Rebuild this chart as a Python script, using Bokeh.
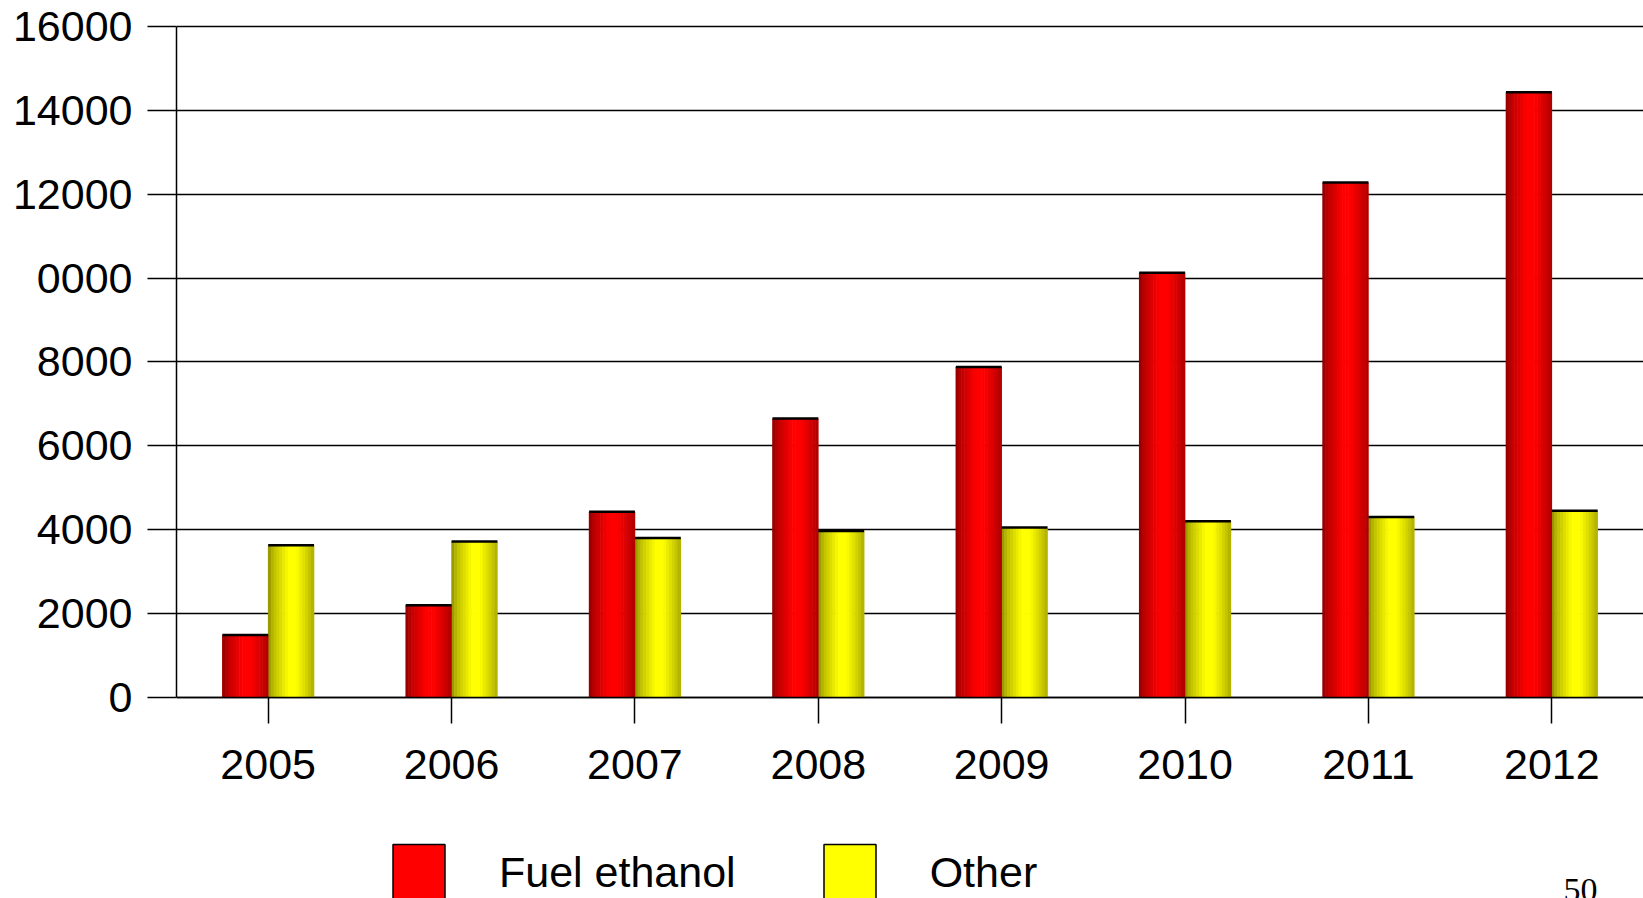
import numpy as np
from bokeh.plotting import figure
from bokeh.models import (ColumnDataSource, FactorRange, Range1d, FixedTicker,
                          Legend, LegendItem, Label)
from bokeh.transform import dodge
from bokeh.embed import file_html
from bokeh.resources import INLINE

# ---- data ----
years = ["2005", "2006", "2007", "2008", "2009", "2010", "2011", "2012"]
fuel_ethanol = [1490, 2200, 4430, 6650, 7880, 10130, 12280, 14430]
other = [3630, 3720, 3800, 3970, 4050, 4200, 4300, 4450]
y_ticks = [0, 2000, 4000, 6000, 8000, 10000, 12000, 14000, 16000]
y_tick_labels = ["0", "2000", "4000", "6000", "8000", "0000", "12000", "14000", "16000"]
series_names = ["Fuel ethanol", "Other"]
page_number = "50"

FONT = "Liberation Sans"

src = ColumnDataSource(dict(years=years, fuel=fuel_ethanol, other=other))

p = figure(x_range=FactorRange(factors=years, range_padding=0, factor_padding=0),
           y_range=Range1d(-4795, 16143),
           width=1643, height=898,
           output_backend="svg", toolbar_location=None,
           min_border_left=176, min_border_right=0,
           min_border_top=20, min_border_bottom=0)
p.outline_line_color = None
p.background_fill_color = "white"

# ---- bars with cylinder-like shading (vertical strips) ----
bw = 0.25
N = 16


def shade(t):
    return float(np.interp(t, [0, 0.12, 0.45, 0.62, 0.85, 1.0],
                           [0.56, 0.74, 1.0, 1.0, 0.82, 0.68]))


for k in range(N):
    t = (k + 0.5) / N
    b = shade(t)
    c = int(round(255 * b))
    red = "#%02x0000" % c
    yel = "#%02x%02x00" % (c, c)
    p.vbar(x=dodge("years", -bw + t * bw, range=p.x_range), top="fuel",
           width=bw / N * 1.2, source=src, fill_color=red, line_color=None)
    p.vbar(x=dodge("years", t * bw, range=p.x_range), top="other",
           width=bw / N * 1.2, source=src, fill_color=yel, line_color=None)

# top edges
p.segment(x0=dodge("years", -bw, range=p.x_range), x1=dodge("years", 0, range=p.x_range),
          y0="fuel", y1="fuel", source=src, line_color="black", line_width=2.5)
p.segment(x0=dodge("years", 0, range=p.x_range), x1=dodge("years", bw, range=p.x_range),
          y0="other", y1="other", source=src, line_color="black", line_width=2.5)

# legend-only renderers
r_fuel = p.vbar(x=dodge("years", -bw / 2, range=p.x_range), top="fuel", width=bw,
                source=src, fill_color="#ff0000", line_color="black", line_width=1.5,
                visible=False)
r_other = p.vbar(x=dodge("years", bw / 2, range=p.x_range), top="other", width=bw,
                 source=src, fill_color="#ffff00", line_color="black", line_width=1.5,
                 visible=False)

legend = Legend(items=[LegendItem(label=series_names[0], renderers=[r_fuel]),
                       LegendItem(label=series_names[1], renderers=[r_other])],
                location=(210, -9), orientation="horizontal",
                glyph_width=65, glyph_height=70, label_height=70,
                label_standoff=48, spacing=81, padding=0, margin=0,
                border_line_color=None, background_fill_alpha=0,
                label_text_font=FONT, label_text_font_size="43px",
                label_text_color="black")
p.add_layout(legend)

# ---- axes ----
yt = FixedTicker(ticks=y_ticks)
p.yaxis.ticker = yt
p.ygrid.ticker = yt
p.yaxis.major_label_overrides = dict(zip(y_ticks, y_tick_labels))
p.yaxis.bounds = (0, 16000)
p.yaxis.major_tick_out = 29
p.yaxis.major_tick_in = 0
p.yaxis.minor_tick_out = 0
p.yaxis.minor_tick_in = 0
p.yaxis.major_label_standoff = 15
p.yaxis.major_tick_line_width = 1.5

p.ygrid.grid_line_color = "black"
p.ygrid.grid_line_width = 1.4
p.xgrid.grid_line_color = None

p.xaxis.fixed_location = 0
p.xaxis.major_tick_out = 26
p.xaxis.major_tick_in = 0
p.xaxis.major_label_standoff = 27
p.xaxis.major_tick_line_width = 1.5

for ax in (p.xaxis, p.yaxis):
    ax.axis_line_color = "black"
    ax.axis_line_width = 1.5
    ax.major_tick_line_color = "black"
    ax.major_label_text_font = FONT
    ax.major_label_text_font_size = "43px"
    ax.major_label_text_color = "black"

p.add_layout(Label(x=1387, y=20, x_units="screen", y_units="screen", text=page_number,
                   text_font="Liberation Serif", text_font_size="34px",
                   text_baseline="top", text_color="black"))

open("out.html", "w").write(file_html(p, INLINE))
